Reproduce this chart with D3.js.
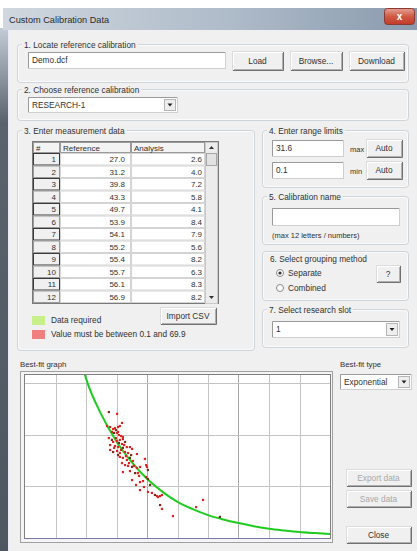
<!DOCTYPE html>
<html>
<head>
<meta charset="utf-8">
<script src="https://cdn.jsdelivr.net/npm/d3@7"></script>
<style>
  body { margin: 0; background: #fff; }
  svg { display: block; font-family: "Liberation Sans", Arial, sans-serif; }
</style>
</head>
<body>
<script>
// measurement table
const rowIds = [1, 2, 3, 4, 5, 6, 7, 8, 9, 10, 11, 12];
const refValues = [27.0, 31.2, 39.8, 43.3, 49.7, 53.9, 54.1, 55.2, 55.4, 55.7, 56.1, 56.9];
const analysisValues = [2.6, 4.0, 7.2, 5.8, 4.1, 8.4, 7.9, 5.6, 8.2, 6.3, 8.3, 8.2];

// best-fit graph: scatter points
const pointX = [2.75, 3.02, 2.69, 2.79, 2.89, 2.98, 3.05, 3.11, 3.18, 2.85, 2.92, 3.02, 3.08, 3.21,
  2.75, 2.85, 2.89, 3.02, 3.11, 3.21, 3.28, 2.79, 2.95, 3.05, 3.18, 3.21, 3.34, 3.44, 3.51,
  2.79, 2.89, 3.02, 3.11, 3.28, 3.38, 3.48, 3.67, 3.11, 3.21, 3.34, 3.44, 3.54,
  3.18, 3.28, 3.38, 3.51, 3.67, 3.77, 3.21, 3.44, 3.61, 3.70, 3.93, 3.97, 4.00, 4.03,
  3.51, 3.77, 3.87, 3.97, 4.03, 3.77, 3.90, 4.03, 4.16, 4.26, 4.33, 4.36, 4.43, 4.49,
  4.43, 4.49, 4.85, 5.61, 5.84, 6.39,
  2.95, 3.05, 3.15, 2.98, 3.08, 3.25, 2.92, 3.15, 3.31, 3.05, 3.41, 3.57, 3.74, 3.64, 4.10];
const pointY = [48.9, 48.2, 43.5, 43.1, 42.3, 41.9, 43.1, 43.5, 44.7, 41.2, 40.8, 40.8, 40.0, 39.2,
  38.8, 38.1, 37.3, 37.7, 38.1, 38.4, 37.3, 36.1, 35.7, 35.3, 36.5, 35.0, 35.3, 35.3, 34.6,
  34.2, 33.4, 33.8, 33.0, 33.4, 33.0, 32.2, 32.6, 31.5, 31.1, 30.3, 31.1, 29.9,
  29.1, 28.3, 28.0, 27.6, 27.2, 27.6, 25.6, 26.0, 25.2, 25.2, 30.7, 28.3, 27.6, 26.4,
  22.5, 21.7, 22.1, 23.7, 22.9, 18.6, 19.8, 17.9, 17.5, 16.7, 16.3, 15.9, 16.3, 16.7,
  12.8, 11.3, 8.5, 12.0, 14.8, 8.2,
  42.7, 41.2, 39.6, 38.8, 36.9, 36.1, 35.0, 34.2, 31.8, 32.2, 29.1, 28.0, 24.1, 20.6, 20.6];

// best-fit graph: exponential curve
const curveX = [1.9, 2.0, 2.5, 3.0, 3.5, 4.0, 4.5, 5.0, 5.5, 6.0, 6.5, 7.0, 7.5, 8.0, 8.5, 9.0, 9.5, 10.0];
const curveY = [66, 62, 48, 37.5, 29.5, 23, 18, 14, 11.2, 8.9, 7.2, 5.8, 4.6, 3.6, 2.9, 2.3, 1.9, 1.55];

const xTicks = [1, 2, 3, 4, 5, 6, 7, 8, 9];
const yTicks = [20, 40, 60];

const txt = "#303030";
const fs = "8.3px";

const svg = d3.select("body").append("svg")
  .attr("width", 417)
  .attr("height", 551);

const defs = svg.append("defs");
const tg = defs.append("linearGradient").attr("id", "titleGrad");
tg.append("stop").attr("offset", "0%").attr("stop-color", "#d0d7df");
tg.append("stop").attr("offset", "55%").attr("stop-color", "#aebbc9");
tg.append("stop").attr("offset", "100%").attr("stop-color", "#8a9bae");
const fg = defs.append("linearGradient").attr("id", "frameGrad")
  .attr("x1", 0).attr("x2", 0).attr("y1", 0).attr("y2", 1);
fg.append("stop").attr("offset", "0%").attr("stop-color", "#c3ccd6");
fg.append("stop").attr("offset", "18%").attr("stop-color", "#5a636d");
fg.append("stop").attr("offset", "100%").attr("stop-color", "#4e5660");
const cg = defs.append("linearGradient").attr("id", "closeGrad")
  .attr("x1", 0).attr("x2", 0).attr("y1", 0).attr("y2", 1);
cg.append("stop").attr("offset", "0%").attr("stop-color", "#e5a195");
cg.append("stop").attr("offset", "50%").attr("stop-color", "#cf5a45");
cg.append("stop").attr("offset", "100%").attr("stop-color", "#c23a2a");

// window frame
svg.append("rect").attr("x", 0).attr("y", 28).attr("width", 8).attr("height", 523)
  .attr("fill", "url(#frameGrad)");
svg.append("rect").attr("x", 3).attr("y", 8).attr("width", 414).attr("height", 22)
  .attr("fill", "url(#titleGrad)");
svg.append("rect").attr("x", 8).attr("y", 30).attr("width", 409).attr("height", 521)
  .attr("fill", "#f0f0f0");
svg.append("line").attr("x1", 8.5).attr("x2", 8.5).attr("y1", 30).attr("y2", 551)
  .attr("stroke", "#e8ecf0");
svg.append("text").attr("x", 9).attr("y", 23)
  .attr("font-size", "9.2px").attr("fill", "#2a2a2a")
  .text("Custom Calibration Data");
svg.append("rect").attr("x", 384.5).attr("y", 8.5).attr("width", 30).attr("height", 16).attr("rx", 3)
  .attr("fill", "url(#closeGrad)").attr("stroke", "#8a3a30");
svg.append("text").attr("x", 399.5).attr("y", 20).attr("text-anchor", "middle")
  .attr("font-size", "10px").attr("font-weight", "bold").attr("fill", "#fff")
  .text("x");

function label(x, y, s, opts) {
  opts = opts || {};
  return svg.append("text").attr("x", x).attr("y", y)
    .attr("font-size", opts.size || fs)
    .attr("text-anchor", opts.anchor || "start")
    .attr("fill", opts.fill || txt)
    .text(s);
}

function groupBox(x, y, w, h, s) {
  svg.append("rect").attr("x", x + 0.5).attr("y", y + 0.5).attr("width", w).attr("height", h)
    .attr("rx", 3).attr("fill", "none").attr("stroke", "#cdd4da");
  svg.append("rect").attr("x", x + 1.5).attr("y", y + 1.5).attr("width", w - 2).attr("height", h - 2)
    .attr("rx", 3).attr("fill", "none").attr("stroke", "#fbfbfb");
  if (!s) return;
  const t = label(x + 7, y + 3.5, s);
  const tw = t.node().getComputedTextLength();
  svg.insert("rect", () => t.node()).attr("x", x + 5).attr("y", y - 4)
    .attr("width", tw + 4).attr("height", 9).attr("fill", "#f0f0f0");
}

function button(x, y, w, h, s, disabled) {
  svg.append("rect").attr("x", x + 0.5).attr("y", y + 0.5).attr("width", w).attr("height", h)
    .attr("fill", "#f0f0f0").attr("stroke", "#dcdcdc");
  svg.append("polyline")
    .attr("points", `${x + 1.5},${y + h} ${x + 1.5},${y + 1.5} ${x + w},${y + 1.5}`)
    .attr("fill", "none").attr("stroke", "#ffffff");
  svg.append("polyline")
    .attr("points", `${x + 1},${y + h + 0.5} ${x + w + 0.5},${y + h + 0.5} ${x + w + 0.5},${y + 1}`)
    .attr("fill", "none").attr("stroke", "#707070");
  svg.append("polyline")
    .attr("points", `${x + 2},${y + h - 0.5} ${x + w - 0.5},${y + h - 0.5} ${x + w - 0.5},${y + 2}`)
    .attr("fill", "none").attr("stroke", "#b0b0b0");
  label(x + w / 2, y + h / 2 + 3, s, { anchor: "middle", fill: disabled ? "#a8a8a8" : txt });
}

function input(x, y, w, h, s) {
  svg.append("rect").attr("x", x + 0.5).attr("y", y + 0.5).attr("width", w).attr("height", h)
    .attr("fill", "#fff").attr("stroke", "#cfcfcf");
  svg.append("polyline")
    .attr("points", `${x + 0.5},${y + h} ${x + 0.5},${y + 0.5} ${x + w},${y + 0.5}`)
    .attr("fill", "none").attr("stroke", "#9a9a9a");
  if (s) label(x + 4, y + h / 2 + 3, s);
}

function combo(x, y, w, h, s) {
  input(x, y, w, h, s);
  const bx = x + w - 13;
  svg.append("rect").attr("x", bx + 0.5).attr("y", y + 2.5).attr("width", 11).attr("height", h - 4)
    .attr("fill", "#eeeeee").attr("stroke", "#b5b5b5");
  svg.append("path")
    .attr("d", `M${bx + 3.5},${y + h / 2 - 1} L${bx + 8.5},${y + h / 2 - 1} L${bx + 6},${y + h / 2 + 2} Z`)
    .attr("fill", "#222");
}

// 1. Locate reference calibration
groupBox(17, 44, 391, 38, "1. Locate reference calibration");
input(28, 52, 197, 16, "Demo.dcf");
button(232, 51, 51, 19, "Load");
button(290, 51, 52, 19, "Browse...");
button(349, 51, 55, 19, "Download");

// 2. Choose reference calibration
groupBox(17, 89, 391, 31, "2. Choose reference calibration");
combo(28, 97, 149, 15, "RESEARCH-1");

// 3. Enter measurement data
groupBox(17, 130, 237, 220, "3. Enter measurement data");

const tableX = 33, tableY = 142, headH = 11, rowH = 12.5;
const colX = [33, 60, 131, 205];
const colW = [27, 71, 74];
const table = svg.append("g");
table.append("rect").attr("x", tableX - 0.5).attr("y", tableY - 0.5)
  .attr("width", 186).attr("height", headH + rowH * rowIds.length + 1)
  .attr("fill", "#fff").attr("stroke", "#7a7a7a");
// header
["#", "Reference", "Analysis"].forEach((h, i) => {
  table.append("rect").attr("x", colX[i] + 0.5).attr("y", tableY + 0.5)
    .attr("width", colW[i] - 1).attr("height", headH - 1)
    .attr("fill", "#f3f3f3").attr("stroke", "#9a9a9a");
  table.append("text").attr("x", colX[i] + 3).attr("y", tableY + 8.5)
    .attr("font-size", "8px").attr("fill", txt).text(h);
});
const rows = table.selectAll("g.row").data(rowIds).enter().append("g").attr("class", "row");
rows.append("rect")
  .attr("x", colX[0] + 0.5)
  .attr("y", (d, i) => tableY + headH + i * rowH + 0.5)
  .attr("width", colW[0] - 1).attr("height", rowH - 1)
  .attr("fill", "#f0f0f0").attr("stroke", (d, i) => i % 2 === 0 ? "#3a3a3a" : "#9a9a9a");
rows.append("rect")
  .attr("x", colX[1] + 0.5)
  .attr("y", (d, i) => tableY + headH + i * rowH + 0.5)
  .attr("width", colW[1] - 1).attr("height", rowH - 1)
  .attr("fill", "#fff").attr("stroke", "#d4d4d4");
rows.append("rect")
  .attr("x", colX[2] + 0.5)
  .attr("y", (d, i) => tableY + headH + i * rowH + 0.5)
  .attr("width", colW[2] - 1).attr("height", rowH - 1)
  .attr("fill", "#fff").attr("stroke", "#d4d4d4");
rows.append("text")
  .attr("x", colX[0] + colW[0] - 4)
  .attr("y", (d, i) => tableY + headH + i * rowH + 9)
  .attr("text-anchor", "end").attr("font-size", "8px").attr("fill", txt)
  .text(d => d);
rows.append("text")
  .attr("x", colX[1] + colW[1] - 6)
  .attr("y", (d, i) => tableY + headH + i * rowH + 9)
  .attr("text-anchor", "end").attr("font-size", "8px").attr("fill", txt)
  .text((d, i) => d3.format(".1f")(refValues[i]));
rows.append("text")
  .attr("x", colX[2] + colW[2] - 3)
  .attr("y", (d, i) => tableY + headH + i * rowH + 9)
  .attr("text-anchor", "end").attr("font-size", "8px").attr("fill", txt)
  .text((d, i) => d3.format(".1f")(analysisValues[i]));
// scrollbar
const sbX = 205, sbBottom = tableY + headH + rowH * rowIds.length;
table.append("rect").attr("x", sbX + 0.5).attr("y", tableY + 0.5).attr("width", 12)
  .attr("height", sbBottom - tableY).attr("fill", "#ececec").attr("stroke", "#c8c8c8");
table.append("rect").attr("x", sbX + 1.5).attr("y", tableY + headH + 0.5).attr("width", 10)
  .attr("height", 12).attr("fill", "#e2e2e2").attr("stroke", "#a6a6a6");
table.append("path")
  .attr("d", `M${sbX + 4},${tableY + 7} L${sbX + 9},${tableY + 7} L${sbX + 6.5},${tableY + 4} Z`)
  .attr("fill", "#333");
table.append("path")
  .attr("d", `M${sbX + 4},${sbBottom - 7} L${sbX + 9},${sbBottom - 7} L${sbX + 6.5},${sbBottom - 4} Z`)
  .attr("fill", "#333");

button(160, 307, 56, 17, "Import CSV");
svg.append("rect").attr("x", 32).attr("y", 316).attr("width", 13).attr("height", 9).attr("fill", "#c8f08a");
label(51, 323, "Data required");
svg.append("rect").attr("x", 32).attr("y", 330).attr("width", 13).attr("height", 9).attr("fill", "#f08080");
label(51, 337, "Value must be between 0.1 and 69.9");

// 4. Enter range limits
groupBox(262, 130, 146, 57, "4. Enter range limits");
input(272, 140, 71, 16, "31.6");
label(350, 152, "max", { size: "7.5px" });
button(366, 139, 36, 18, "Auto");
input(272, 162, 71, 16, "0.1");
label(350, 174, "min", { size: "7.5px" });
button(366, 161, 36, 18, "Auto");

// 5. Calibration name
groupBox(262, 196, 146, 48, "5. Calibration name");
input(272, 208, 127, 17, "");
label(272, 238, "(max 12 letters / numbers)", { size: "7.5px" });

// 6. Select grouping method
groupBox(262, 251, 146, 49, "");
label(270, 262, "6. Select grouping method");
svg.append("circle").attr("cx", 280).attr("cy", 273).attr("r", 3.5)
  .attr("fill", "#fff").attr("stroke", "#8a8a8a");
svg.append("circle").attr("cx", 280).attr("cy", 273).attr("r", 1.6).attr("fill", "#333");
label(288, 276, "Separate");
svg.append("circle").attr("cx", 280).attr("cy", 288).attr("r", 3.5)
  .attr("fill", "#fff").attr("stroke", "#8a8a8a");
label(288, 291, "Combined");
button(376, 265, 24, 17, "?");

// 7. Select research slot
groupBox(262, 309, 146, 38, "7. Select research slot");
combo(272, 321, 127, 16, "1");

// Best-fit graph
label(20, 367, "Best-fit graph", { size: "7.8px" });
label(340, 367, "Best-fit type", { size: "7.8px" });
combo(340, 374, 71, 15, "Exponential");
button(346, 469, 65, 17, "Export data", true);
button(346, 490, 65, 17, "Save data", true);
button(346, 526, 65, 17, "Close");

const plot = { left: 25, right: 330, top: 375, bottom: 538 };
// chart frame
svg.append("rect").attr("x", 20.5).attr("y", 371.5).attr("width", 312).attr("height", 171)
  .attr("fill", "#f4f4f4").attr("stroke", "#a0a0a0");
svg.append("rect").attr("x", plot.left).attr("y", plot.top)
  .attr("width", plot.right - plot.left).attr("height", plot.bottom - plot.top)
  .attr("fill", "#fff");

const x = d3.scaleLinear().domain([0, 10]).range([plot.left, plot.right]);
const y = d3.scaleLinear().domain([0, 63.3]).range([plot.bottom, plot.top]);

const chart = svg.append("g");
chart.append("g").selectAll("line").data(xTicks).enter().append("line")
  .attr("x1", d => Math.round(x(d)) + 0.5).attr("x2", d => Math.round(x(d)) + 0.5)
  .attr("y1", plot.top).attr("y2", plot.bottom)
  .attr("stroke", d => (d === 4 || d === 7) ? "#a8a8a8" : "#c4c4c4");
chart.append("g").selectAll("line").data(yTicks).enter().append("line")
  .attr("x1", plot.left).attr("x2", plot.right)
  .attr("y1", d => Math.round(y(d)) + 0.5).attr("y2", d => Math.round(y(d)) + 0.5)
  .attr("stroke", "#c4c4c4");

svg.append("rect").attr("x", plot.left - 0.5).attr("y", plot.top - 0.5)
  .attr("width", plot.right - plot.left + 1).attr("height", plot.bottom - plot.top + 1)
  .attr("fill", "none").attr("stroke", "#808080");
svg.append("line").attr("x1", plot.left).attr("x2", plot.right)
  .attr("y1", plot.bottom + 0.5).attr("y2", plot.bottom + 0.5)
  .attr("stroke", "#7878a8");

defs.append("clipPath").attr("id", "plotClip").append("rect")
  .attr("x", plot.left).attr("y", plot.top)
  .attr("width", plot.right - plot.left).attr("height", plot.bottom - plot.top);

const curveData = curveX.map((d, i) => [d, curveY[i]]);
chart.append("path")
  .datum(curveData)
  .attr("clip-path", "url(#plotClip)")
  .attr("fill", "none")
  .attr("stroke", "#1ecb1e")
  .attr("stroke-width", 2)
  .attr("d", d3.line().x(d => x(d[0])).y(d => y(d[1])).curve(d3.curveMonotoneX));

chart.append("g").selectAll("rect").data(pointX).enter().append("rect")
  .attr("x", d => x(d) - 1.1)
  .attr("y", (d, i) => y(pointY[i]) - 1.1)
  .attr("width", 2.2).attr("height", 2.2)
  .attr("fill", (d, i) => i % 5 === 0 ? "#7a2a1a" : "#dd2222");
</script>
</body>
</html>
